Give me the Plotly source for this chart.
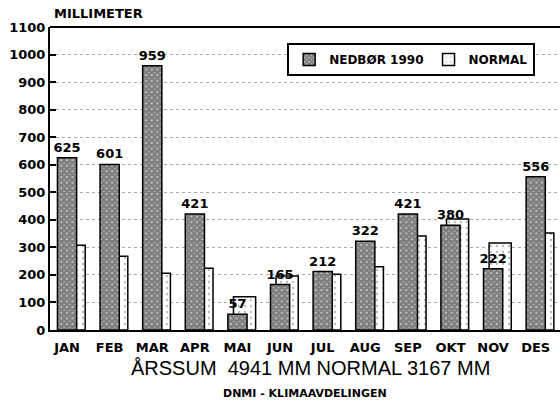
import plotly.graph_objects as go

months = ["JAN", "FEB", "MAR", "APR", "MAI", "JUN", "JUL", "AUG", "SEP", "OKT", "NOV", "DES"]
nedbor_1990 = [625, 601, 959, 421, 57, 165, 212, 322, 421, 380, 222, 556]
normal = [308, 268, 206, 224, 121, 196, 202, 230, 341, 403, 316, 352]
y_ticks = [0, 100, 200, 300, 400, 500, 600, 700, 800, 900, 1000, 1100]
y_ticktext = ["0", "100", "200", "300", "400", "500", "600", "700", "800", "900", "1000", "1100"]

x = list(range(len(months)))
BOLD = "DejaVu Sans"

fig = go.Figure()
fig.add_trace(go.Bar(
    x=x, y=normal, name="NORMAL", width=0.52, offset=-0.094,
    marker=dict(color="white", line=dict(color="black", width=1.5),
                pattern=dict(shape=".", fgcolor="#777", bgcolor="white", size=6, solidity=0.12)),
    legendrank=2,
))
fig.add_trace(go.Bar(
    x=x, y=nedbor_1990, name="NEDBØR 1990", width=0.45, offset=-0.225,
    text=[str(v) for v in nedbor_1990], textposition="outside", cliponaxis=False,
    constraintext="none",
    textfont=dict(family=BOLD, size=13, color="black", weight="bold"),
    marker=dict(color="white", line=dict(color="black", width=1.5),
                pattern=dict(shape="x", fgcolor="black", bgcolor="white", size=4, solidity=0.9)),
    legendrank=1,
))

fig.update_layout(
    width=560, height=403,
    margin=dict(l=50, r=0, t=27, b=73),
    paper_bgcolor="white", plot_bgcolor="white",
    barmode="overlay",
    uniformtext=dict(minsize=13, mode="show"),
    font=dict(family=BOLD, color="black"),
    showlegend=True,
    legend=dict(orientation="h", x=0.465, y=0.947, xanchor="left", yanchor="top",
                bordercolor="black", borderwidth=2, bgcolor="white",
                font=dict(family=BOLD, size=12, color="black", weight="bold"),
                itemwidth=30),
    xaxis=dict(range=[-0.4, 11.57], tickmode="array", tickvals=x, ticktext=months,
               showline=True, linecolor="black", linewidth=2, showgrid=False,
               ticks="", ticklabelstandoff=4, tickangle=0,
               tickfont=dict(family=BOLD, size=13, color="black", weight="bold")),
    yaxis=dict(range=[0, 1100], tickmode="array", tickvals=y_ticks, ticktext=y_ticktext,
               showline=True, linecolor="black", linewidth=2,
               showgrid=True, gridcolor="#aaa", griddash="dot", gridwidth=1,
               zeroline=False, ticks="inside", ticklen=6, tickwidth=1.5, tickcolor="black",
               tickfont=dict(family=BOLD, size=13, color="black", weight="bold")),
    shapes=[dict(type="line", xref="paper", yref="paper", x0=0, x1=1, y0=1, y1=1,
                 line=dict(color="black", width=2))],
    annotations=[
        dict(text="MILLIMETER", xref="paper", yref="paper", x=0.004, y=1.043,
             xanchor="left", yanchor="middle", showarrow=False,
             font=dict(family=BOLD, size=13, color="black", weight="bold")),
        dict(text="ÅRSSUM  4941 MM NORMAL 3167 MM", xref="paper", yref="paper",
             x=0.51, y=-0.125, xanchor="center", yanchor="middle", showarrow=False,
             font=dict(family="Liberation Sans", size=20, color="black")),
        dict(text="DNMI - KLIMAAVDELINGEN", xref="paper", yref="paper",
             x=0.5, y=-0.208, xanchor="center", yanchor="middle", showarrow=False,
             font=dict(family=BOLD, size=11, color="black", weight="bold")),
    ],
)

fig.write_html("out.html", config={"displayModeBar": False},
               post_script="document.body.style.margin='0';document.body.style.overflow='hidden';")
